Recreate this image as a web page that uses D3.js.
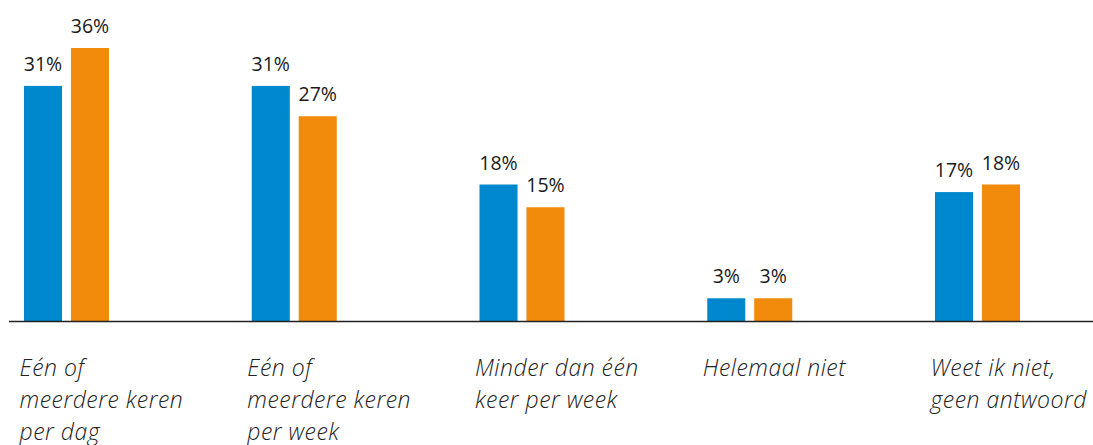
<!DOCTYPE html>
<html>
<head>
<meta charset="utf-8">
<script src="https://cdn.jsdelivr.net/npm/d3@7"></script>
<style>
  body { margin: 0; background: #fff; }
  svg { display: block; }
</style>
</head>
<body>
<svg width="1093" height="445"></svg>
<script>
var categories = [
  ["Eén of", "meerdere keren", "per dag"],
  ["Eén of", "meerdere keren", "per week"],
  ["Minder dan één", "keer per week"],
  ["Helemaal niet"],
  ["Weet ik niet,", "geen antwoord"]
];
var series = ["a", "b"];
var seriesA = [31, 31, 18, 3, 17];
var seriesB = [36, 27, 15, 3, 18];
var colors = ["#0088cf", "#f28b0c"];

var svg = d3.select("svg"),
    baseY = 321;

var x = d3.scalePoint()
    .domain(d3.range(categories.length))
    .range([66.5, 977.5]);

var x1 = d3.scaleBand()
    .domain(series)
    .range([-42.5, 42.5])
    .paddingInner(0.19);

var y = d3.scaleLinear()
    .domain([0, 36])
    .range([baseY, 48]);

var rows = categories.map(function(c, i) {
  return {i: i, values: [seriesA[i], seriesB[i]]};
});

var grp = svg.selectAll(".grp")
  .data(rows)
  .enter().append("g")
    .attr("class", "grp")
    .attr("transform", function(d) { return "translate(" + x(d.i) + ",0)"; });

grp.selectAll("rect")
  .data(function(d) { return d.values.map(function(v, j) { return {s: series[j], v: v, j: j}; }); })
  .enter().append("rect")
    .attr("x", function(d) { return x1(d.s); })
    .attr("width", x1.bandwidth())
    .attr("y", function(d) { return y(d.v); })
    .attr("height", function(d) { return baseY - y(d.v); })
    .attr("fill", function(d) { return colors[d.j]; });

grp.selectAll(".val")
  .data(function(d) { return d.values.map(function(v, j) { return {s: series[j], v: v}; }); })
  .enter().append("text")
    .attr("class", "val")
    .attr("x", function(d) { return x1(d.s) + x1.bandwidth() / 2; })
    .attr("y", function(d) { return y(d.v) - 15; })
    .attr("text-anchor", "middle")
    .style("font", "19.5px 'Open Sans', sans-serif")
    .attr("fill", "#1a1a1a")
    .text(function(d) { return d.v + "%"; });

// baseline
svg.append("line")
    .attr("x1", 9).attr("x2", 1093)
    .attr("y1", baseY + 0.5).attr("y2", baseY + 0.5)
    .attr("stroke", "#222")
    .attr("stroke-width", 1.3);

// category labels
var lab = svg.selectAll(".cat")
  .data(rows)
  .enter().append("text")
    .attr("class", "cat")
    .attr("x", function(d) { return x(d.i) - 47; })
    .attr("y", 376)
    .style("font-family", "'Open Sans', sans-serif")
    .style("font-style", "italic")
    .style("font-weight", 300)
    .style("font-size", "23px")
    .style("letter-spacing", "0.5px")
    .attr("fill", "#222");

lab.selectAll("tspan")
  .data(function(d) { return categories[d.i]; })
  .enter().append("tspan")
    .attr("x", function() { return d3.select(this.parentNode).attr("x"); })
    .attr("dy", function(d, k) { return k ? 32 : 0; })
    .text(function(d) { return d; });
</script>
</body>
</html>
